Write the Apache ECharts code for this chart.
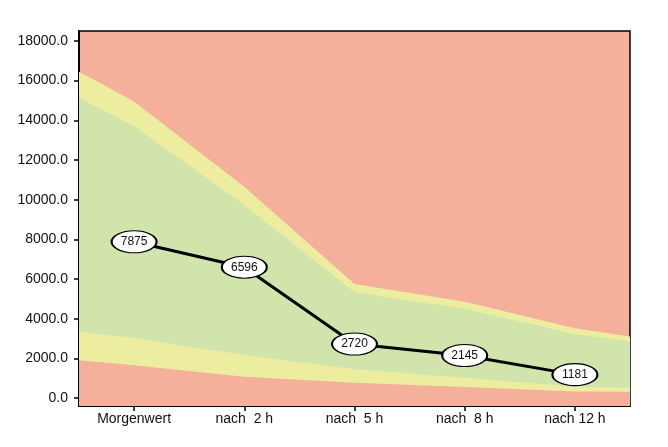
<!DOCTYPE html>
<html>
<head>
<meta charset="utf-8">
<script src="https://cdn.jsdelivr.net/npm/echarts@6/dist/echarts.min.js"></script>
<style>html,body{margin:0;padding:0;background:#fff}#c{width:668px;height:447px}</style>
</head>
<body>
<div id="c"></div>
<script>
const categories = ['Morgenwert', 'nach  2 h', 'nach  5 h', 'nach  8 h', 'nach 12 h'];
const lineValues = [7875, 6596, 2720, 2145, 1181];
// band boundaries: left plot edge, 5 categories, right plot edge
const bandX = [-0.5, 0, 1, 2, 3, 4, 4.5];
const upperOuter = [16440, 14950, 10650, 5750, 4850, 3520, 3100];
const upperInner = [15120, 13700, 9730, 5330, 4500, 3220, 2860];
const lowerInner = [3340, 3030, 2170, 1450, 1020, 570, 520];
const lowerOuter = [1900, 1660, 1080, 770, 560, 330, 320];
const yTicks = [0, 2000, 4000, 6000, 8000, 10000, 12000, 14000, 16000, 18000];

const RED = '#F4B09B', YELLOW = '#EDEDA0', GREEN = '#D0E4AB';
const FONT = 'Liberation Sans, Arial, sans-serif';

function pairs(vals) { return bandX.map((x, i) => [x, vals[i]]); }
function band(vals, color) {
  return {
    type: 'line', data: pairs(vals), showSymbol: false, silent: true,
    lineStyle: { width: 0 }, itemStyle: { color: color },
    areaStyle: { color: color, opacity: 1, origin: 'start' },
    animation: false, z: 1
  };
}

const chart = echarts.init(document.getElementById('c'));
chart.setOption({
  animation: false,
  grid: { left: 79, right: 38, top: 31, bottom: 41, show: true,
          backgroundColor: RED, borderColor: '#000', borderWidth: 1.5 },
  xAxis: {
    type: 'value', min: -0.5, max: 4.5,
    splitLine: { show: false },
    axisLine: { show: true, onZero: false, lineStyle: { color: '#000', width: 2 } },
    axisTick: { show: true, length: 5, lineStyle: { color: '#000', width: 1.5 },
                customValues: [0, 1, 2, 3, 4] },
    axisLabel: { customValues: [0, 1, 2, 3, 4], formatter: v => categories[Math.round(v)],
                 color: '#111', fontSize: 14, fontFamily: FONT, margin: 6 }
  },
  yAxis: {
    type: 'value', min: -400, max: 18500,
    splitLine: { show: false },
    axisLine: { show: true, onZero: false, lineStyle: { color: '#000', width: 2 } },
    axisTick: { show: true, length: 5, lineStyle: { color: '#000', width: 1.5 },
                customValues: yTicks },
    axisLabel: { customValues: yTicks, formatter: v => v.toFixed(1),
                 color: '#111', fontSize: 14, fontFamily: FONT, margin: 11 }
  },
  series: [
    band(upperOuter, YELLOW),
    band(upperInner, GREEN),
    band(lowerInner, YELLOW),
    band(lowerOuter, RED),
    {
      type: 'line', z: 5,
      data: lineValues.map((v, i) => [i, v]),
      lineStyle: { color: '#000', width: 3 },
      symbol: 'path://M0,10 A20,10 0 1,1 40,10 A20,10 0 1,1 0,10 Z',
      symbolSize: [45, 22], showSymbol: true,
      itemStyle: { color: '#fff', borderColor: '#000', borderWidth: 1.5 },
      label: { show: true, position: 'inside', formatter: p => String(p.value[1]),
               color: '#111', fontSize: 12, fontFamily: FONT }
    }
  ]
});
</script>
</body>
</html>
